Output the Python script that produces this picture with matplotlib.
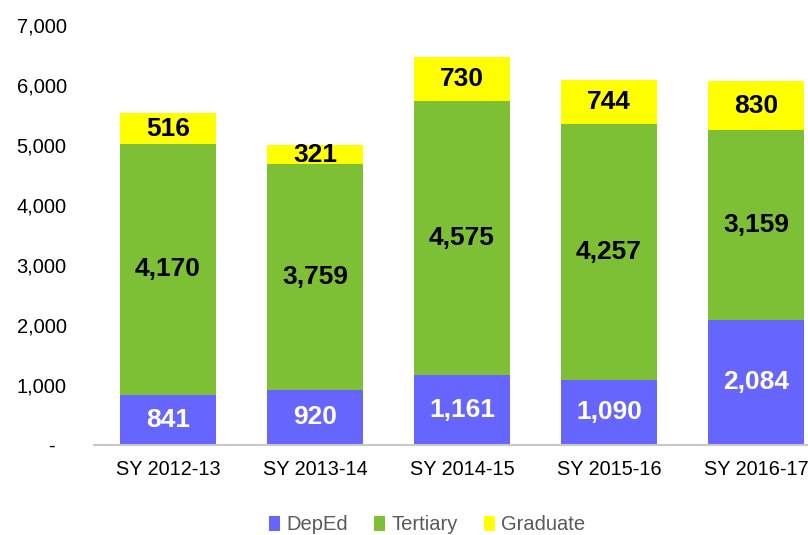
import matplotlib.pyplot as plt
import numpy as np

years = ["SY 2012-13", "SY 2013-14", "SY 2014-15", "SY 2015-16", "SY 2016-17"]
deped = [841, 920, 1161, 1090, 2084]
tertiary = [4170, 3759, 4575, 4257, 3159]
graduate = [516, 321, 730, 744, 830]

plt.rcParams['font.family'] = ['Liberation Sans', 'DejaVu Sans']

fig = plt.figure(figsize=(8.08, 5.35), dpi=100)
ax = fig.add_axes([94.5 / 808, 1 - 445 / 535, 735 / 808, 420 / 535])

x = np.arange(len(years))
w = 0.65
ax.bar(x, deped, w, color='#6666FF', label='DepEd')
ax.bar(x, tertiary, w, bottom=deped, color='#7DBF35', label='Tertiary')
bottom2 = np.array(deped) + np.array(tertiary)
ax.bar(x, graduate, w, bottom=bottom2, color='#FFFF00', label='Graduate')

for i in range(len(years)):
    ax.text(x[i], deped[i] / 2, f"{deped[i]:,}", ha='center', va='center',
            color='white', fontsize=19, fontweight='bold')
    ax.text(x[i], deped[i] + tertiary[i] / 2, f"{tertiary[i]:,}", ha='center', va='center',
            color='black', fontsize=19, fontweight='bold')
    ax.text(x[i], bottom2[i] + graduate[i] / 2, f"{graduate[i]:,}", ha='center', va='center',
            color='black', fontsize=19, fontweight='bold')

ax.set_xlim(-0.5, 4.5)
ax.set_ylim(0, 7000)
ax.set_xticks(x)
ax.set_xticklabels(years, fontsize=14.3)
yt = np.arange(0, 7001, 1000)
ax.set_yticks(yt)
ax.set_yticklabels(['-  '] + [f"{v:,}" for v in yt[1:]], fontsize=14.5)
ax.tick_params(length=0, pad=11)
ax.tick_params(axis='y', pad=20)
for s in ['top', 'right', 'left']:
    ax.spines[s].set_visible(False)
ax.spines['bottom'].set_color('#C8C8C8')
ax.spines['bottom'].set_linewidth(1.5)

leg = fig.legend(loc='center', bbox_to_anchor=(427 / 808, 1 - 525 / 535), ncol=3, frameon=False,
                 fontsize=14.5, handlelength=0.55, handleheight=0.8, handletextpad=0.3,
                 columnspacing=1.3)
for t in leg.get_texts():
    t.set_color('#595959')

fig.savefig('out.png', dpi=100)
